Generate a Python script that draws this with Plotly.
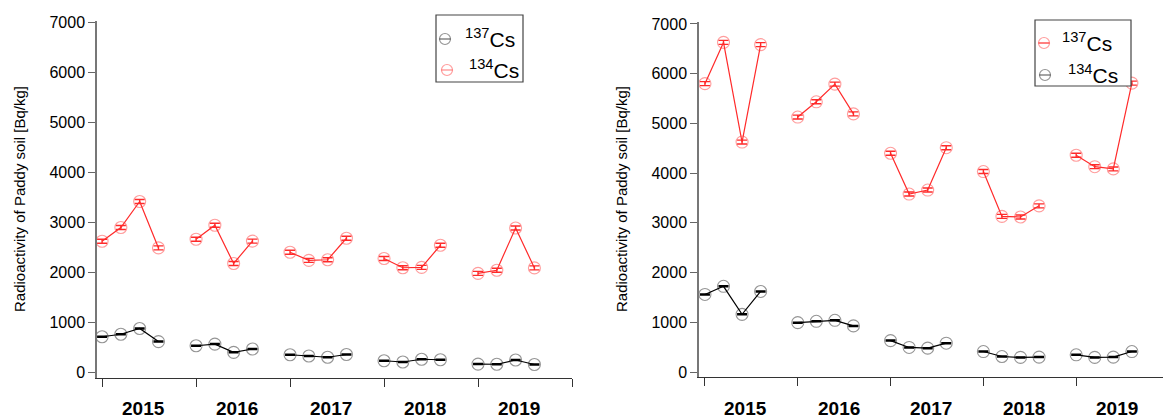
import plotly.graph_objects as go

years = ["2015", "2016", "2017", "2018", "2019"]

# Left panel (legend: black = 137Cs, red = 134Cs)
left_black = [[705, 755, 870, 608], [525, 558, 393, 460], [345, 320, 295, 350],
              [225, 200, 255, 245], [158, 155, 240, 150]]
left_red = [[2615, 2890, 3410, 2482], [2655, 2935, 2170, 2618], [2395, 2232, 2245, 2675],
            [2270, 2085, 2092, 2535], [1972, 2035, 2880, 2082]]

# Right panel (legend: red = 137Cs, black = 134Cs)
right_red = [[5800, 6630, 4625, 6585], [5128, 5435, 5790, 5192], [4400, 3580, 3660, 4512],
             [4032, 3130, 3118, 3342], [4360, 4130, 4085, 5810]]
right_black = [[1560, 1724, 1160, 1620], [993, 1020, 1040, 928], [632, 494, 480, 580],
               [412, 312, 294, 300], [346, 294, 300, 412]]

legend_left = ["137", "134"]
legend_right = ["137", "134"]

RED = "#ff2a2a"
RED_M = "rgba(255,60,60,0.5)"
BLK = "#000000"
BLK_M = "rgba(0,0,0,0.42)"
FONT = "Liberation Sans, Arial, Helvetica, sans-serif"

# page body has an 8px margin; work in window pixels and convert
OFF = 8
W, H = 1171 - OFF, 420 - OFF


def PX(px):
    return (px - OFF) / W


def PY(py):
    return 1 - (py - OFF) / H


def flatten(groups):
    xs, ys = [], []
    for i, g in enumerate(groups):
        for k, v in enumerate(g):
            xs.append(5 * i + k)
            ys.append(v)
        xs.append(None)
        ys.append(None)
    return xs, ys


def trace(groups, lc, mc, err, thick, xa, ya):
    xs, ys = flatten(groups)
    return go.Scatter(
        x=xs, y=ys, mode="lines+markers", xaxis=xa, yaxis=ya, showlegend=False,
        line=dict(color=lc, width=1.2),
        marker=dict(symbol="circle-open", size=12, color=mc, line=dict(width=1.1)),
        error_y=dict(type="constant", value=err, color=lc, thickness=thick, width=5),
        hoverinfo="x+y",
    )


fig = go.Figure()
fig.add_trace(trace(left_black, BLK, BLK_M, 12, 1.3, "x", "y"))
fig.add_trace(trace(left_red, RED, RED_M, 40, 1.4, "x", "y"))
fig.add_trace(trace(right_red, RED, RED_M, 40, 1.4, "x2", "y2"))
fig.add_trace(trace(right_black, BLK, BLK_M, 12, 1.3, "x2", "y2"))

xcommon = dict(tickvals=[0, 5, 10, 15, 20, 25], showticklabels=False, ticks="outside",
               ticklen=8, tickcolor="#333", showline=True, linecolor="#333", linewidth=1.2,
               showgrid=False, zeroline=False, automargin=False)
ycommon = dict(tickvals=[0, 1000, 2000, 3000, 4000, 5000, 6000, 7000], ticks="outside",
               ticklen=7, tickcolor="#666", showline=True, linecolor="#777", linewidth=1.5,
               showgrid=False, zeroline=False, automargin=False,
               tickfont=dict(size=16, color="#000", family=FONT))

fig.update_layout(
    template="none",
    width=W, height=H, margin=dict(l=0, r=0, t=0, b=0, pad=0),
    paper_bgcolor="white", plot_bgcolor="white",
    font=dict(family=FONT, color="#000"),
    showlegend=False,
    xaxis=dict(domain=[PX(97), PX(572)], range=[-0.27, 25], anchor="y", **xcommon),
    yaxis=dict(domain=[PY(378), PY(21)], range=[-120, 7020], anchor="x", **ycommon),
    xaxis2=dict(domain=[PX(699), PX(1169)], range=[-0.32, 25], anchor="y2", **xcommon),
    yaxis2=dict(domain=[PY(377), PY(22)], range=[-100, 7040], anchor="x2", **ycommon),
)

annotations = []
shapes = []
for xa in ["x", "x2"]:
    for i, yr in enumerate(years):
        annotations.append(dict(x=5 * i + 2.2, y=PY(408), xref=xa, yref="paper",
                                text="<b>" + yr + "</b>", showarrow=False,
                                font=dict(size=19, family=FONT, color="#000"),
                                xanchor="center", yanchor="middle"))
for px in [19, 621]:
    annotations.append(dict(x=PX(px), y=PY(199), xref="paper", yref="paper",
                            text="Radioactivity of Paddy soil [Bq/kg]", textangle=-90,
                            showarrow=False, font=dict(size=15, family=FONT, color="#000"),
                            xanchor="center", yanchor="middle"))


def legend_box(x0, y0, x1, y1, rows):
    shapes.append(dict(type="rect", xref="paper", yref="paper",
                       x0=PX(x0), x1=PX(x1), y0=PY(y1), y1=PY(y0),
                       line=dict(color="#444", width=1.2), fillcolor="white", layer="above"))
    for (cx, cy, lc, mc, tx, label) in rows:
        r = 5.5
        shapes.append(dict(type="circle", xref="paper", yref="paper",
                           x0=PX(cx - r), x1=PX(cx + r), y0=PY(cy + r), y1=PY(cy - r),
                           line=dict(color=mc, width=1.2), layer="above"))
        shapes.append(dict(type="line", xref="paper", yref="paper",
                           x0=PX(cx - r), x1=PX(cx + r), y0=PY(cy), y1=PY(cy),
                           line=dict(color=lc, width=1.2), layer="above"))
        annotations.append(dict(x=PX(tx), y=PY(cy - 1), xref="paper", yref="paper",
                                text="<sup>" + label + "</sup>Cs", showarrow=False,
                                font=dict(size=21, family=FONT, color="#000"),
                                xanchor="left", yanchor="middle"))


legend_box(436, 15, 523, 82, [
    (445, 39, "rgba(0,0,0,0.6)", BLK_M, 463, legend_left[0]),
    (447, 70, "rgba(255,60,60,0.6)", RED_M, 467, legend_left[1]),
])
legend_box(1035, 20, 1131, 86, [
    (1044, 43, RED, RED_M, 1060, legend_right[0]),
    (1045, 75, "rgba(0,0,0,0.6)", BLK_M, 1066, legend_right[1]),
])

fig.update_layout(annotations=annotations, shapes=shapes)

fig.write_html("out.html")
